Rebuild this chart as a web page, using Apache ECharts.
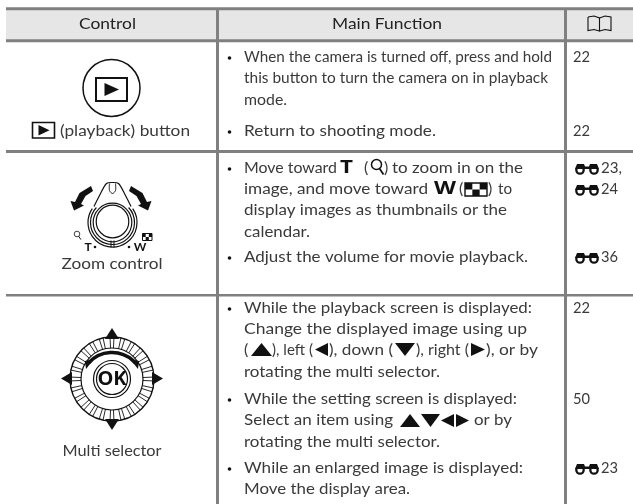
<!DOCTYPE html>
<html>
<head>
	<meta charset="utf-8">
	<title>Control table</title>
	<script src="https://cdn.jsdelivr.net/npm/echarts@6/dist/echarts.min.js"></script>
	<style>
		html, body { margin: 0; padding: 0; background: #fff; }
		#echarts { width: 633px; height: 504px; }
	</style>
</head>
<body>
	<div id="echarts"></div>
	<script>
	// table text
	let headers = ['Control', 'Main Function'];
	let controlLabels = ['(playback) button', 'Zoom control', 'Multi selector'];
	let playbackLines = ['When the camera is turned off, press and hold', 'this button to turn the camera on in playback', 'mode.', 'Return to shooting mode.'];
	let zoomLines = ['Move toward', 'T', '(', ')', 'to zoom in on the', 'image, and move toward', 'W', '(', ')', 'to', 'display images as thumbnails or the', 'calendar.', 'Adjust the volume for movie playback.'];
	let selectorLines = ['While the playback screen is displayed:', 'Change the displayed image using up', '(', '), left (', '), down (', '), right (', '), or by', 'rotating the multi selector.', 'While the setting screen is displayed:', 'Select an item using', 'or by', 'rotating the multi selector.', 'While an enlarged image is displayed:', 'Move the display area.'];
	let pageRefs = ['22', '22', '23,', '24', '36', '22', '50', '23'];

	let font = 'Lato, sans-serif';
	let fontSize = 16;
	let ink = '#3a3a3a';
	let black = '#111';
	let rule = '#808080';
	let els = [];
	let ctx = document.createElement('canvas').getContext('2d');

	// o.w is the width the piece has in the reference, the font is narrower or wider so it gets squeezed to it
	function text(x, y, str, o) {
		o = o || {};
		let size = o.size || fontSize, weight = o.weight || 'normal', family = o.font || font;
		let sx = 1;
		if (o.w) {
			ctx.font = weight + ' ' + size + 'px ' + family;
			sx = o.w / ctx.measureText(str).width;
		}
		els.push({
			type: 'text', x: x, y: y, z: 5, scaleX: sx,
			style: {
				text: str, fill: o.fill || ink, fontFamily: family,
				fontSize: size, fontWeight: weight,
				align: o.align || 'left', verticalAlign: 'middle'
			}
		});
	}
	function line(x1, y1, x2, y2, w, c) {
		els.push({ type: 'line', z: 3, shape: { x1: x1, y1: y1, x2: x2, y2: y2 }, style: { stroke: c || black, lineWidth: w || 1 } });
	}
	function poly(pts, c) {
		els.push({ type: 'polygon', z: 4, shape: { points: pts }, style: { fill: c || black } });
	}
	function pline(pts, w, smooth) {
		els.push({ type: 'polyline', z: 4, shape: { points: pts, smooth: smooth || 0 }, style: { fill: 'none', stroke: black, lineWidth: w || 1 } });
	}
	function circle(cx, cy, r, w, fill) {
		els.push({ type: 'circle', z: 3, shape: { cx: cx, cy: cy, r: r }, style: { fill: fill || 'none', stroke: black, lineWidth: w || 1 } });
	}
	function arc(cx, cy, r, a, b, w) {
		els.push({ type: 'arc', z: 4, shape: { cx: cx, cy: cy, r: r, startAngle: a, endAngle: b, clockwise: true }, style: { fill: 'none', stroke: black, lineWidth: w } });
	}
	function rect(x, y, w, h, o) {
		els.push({ type: 'rect', z: o.z || 1, shape: { x: x, y: y, width: w, height: h }, style: { fill: o.fill || 'none', stroke: o.stroke || 'none', lineWidth: o.lw || 1 } });
	}
	function bullet(y) {
		els.push({ type: 'circle', z: 4, shape: { cx: 229.5, cy: y + 1, r: 1.8 }, style: { fill: black } });
	}
	function triUp(x, y, w, h) { poly([[x + w / 2, y], [x + w, y + h], [x, y + h]]); }
	function triDown(x, y, w, h) { poly([[x, y], [x + w, y], [x + w / 2, y + h]]); }
	function triLeft(x, y, w, h) { poly([[x, y + h / 2], [x + w, y], [x + w, y + h]]); }
	function triRight(x, y, w, h) { poly([[x, y], [x + w, y + h / 2], [x, y + h]]); }
	function binoculars(x, y) {
		circle(x + 6, y + 2, 3.7, 2.3);
		circle(x + 20, y + 2, 3.7, 2.3);
		poly([[x + 3, y - 4], [x + 10, y - 4], [x + 11, y - 1.5], [x + 15, y - 1.5], [x + 16, y - 4], [x + 23, y - 4], [x + 25, y + 1], [x + 1, y + 1]]);
	}
	function magnifier(x, y, r, lw) {
		circle(x, y, r, lw);
		line(x + 0.6 * r, y + 0.8 * r, x + 1.4 * r, y + 2 * r, lw + 0.2);
	}
	function thumbs(x, y, w, h, lw) {
		rect(x, y, w, h, { fill: '#fff', stroke: black, lw: lw, z: 3 });
		let cw = w / 3, ch = h / 2;
		rect(x, y, cw, ch, { fill: black, z: 4 });
		rect(x + 2 * cw, y, cw, ch, { fill: black, z: 4 });
		rect(x + cw, y + ch, cw, ch, { fill: black, z: 4 });
	}

	// table frame
	rect(6, 9, 627, 31, { fill: '#e6e6e6' });
	[8.8, 40.8, 151.5].forEach(function (y) { line(6, y, 633, y, 3, rule); });
	line(6, 295.2, 633, 295.2, 2.6, rule);
	line(217.5, 8, 217.5, 504, 3, rule);
	line(565.5, 8, 565.5, 504, 3, rule);

	text(107.5, 24, headers[0], { align: 'center', fill: '#222', w: 57 });
	text(387, 24, headers[1], { align: 'center', fill: '#222', w: 110 });

	// book icon
	pline([[588, 17], [594, 16], [599.5, 18], [599.5, 31], [594, 29.5], [588, 30.5], [588, 17]], 1.1);
	pline([[599.5, 18], [605, 16], [611, 17], [611, 30.5], [605, 29.5], [599.5, 31]], 1.1);

	// playback button
	circle(111.5, 88, 28.5, 1.5);
	rect(96, 78, 31, 23, { stroke: black, lw: 2, z: 4 });
	triRight(104.5, 83, 14.5, 13);
	rect(32.5, 122.5, 22, 15.5, { stroke: black, lw: 1.6, z: 4 });
	triRight(38.5, 125, 11, 10.5);
	text(60, 131, controlLabels[0], { w: 130 });

	// zoom control
	let zx = 112.5, zy = 221.5;
	circle(zx, zy, 16.3, 1.2);
	circle(zx, zy + 1, 19.3, 1.2);
	arc(zx, zy + 1, 22, -0.75, Math.PI + 0.75, 1.2);
	arc(zx, zy + 1, 24.5, -0.6, Math.PI + 0.6, 1.2);
	pline([[zx + 18.5, zy - 15], [zx + 13, zy - 26], [zx + 6, zy - 38], [zx, zy - 39], [zx - 6, zy - 38], [zx - 13, zy - 26], [zx - 18.5, zy - 15]], 1.2, 0.3);
	pline([[zx + 3, zy - 38], [zx + 3, zy - 31], [zx, zy - 28], [zx - 3, zy - 31], [zx - 3, zy - 38]], 1, 0.3);
	line(zx - 1.5, zy + 19, zx - 1.5, zy + 26, 1);
	line(zx + 1.5, zy + 19, zx + 1.5, zy + 26, 1);
	let leftArrow = [[91, 186], [93, 191], [85.5, 196], [81, 204], [84, 205.5], [74, 210.5], [70.5, 201], [75, 202], [79.5, 193]];
	poly(leftArrow);
	poly(leftArrow.map(function (p) { return [222 - p[0], p[1]]; }));
	magnifier(77, 234, 2.8, 0.8);
	thumbs(142.5, 233.5, 9.5, 7, 1);
	text(88, 247, 'T', { weight: 'bold', size: 12, align: 'center', fill: black });
	text(140, 247, 'W', { weight: 'bold', size: 12, align: 'center', fill: black });
	els.push({ type: 'circle', z: 4, shape: { cx: 95, cy: 247, r: 1.3 }, style: { fill: black } });
	els.push({ type: 'circle', z: 4, shape: { cx: 129, cy: 247, r: 1.3 }, style: { fill: black } });
	text(112, 263.5, controlLabels[1], { align: 'center', w: 101 });

	// multi selector
	let mx = 112, my = 379;
	circle(mx, my, 42, 1.4);
	circle(mx, my, 31, 1.2);
	for (let deg = 0; deg < 360; deg += 15) {
		[-2.7, 2.7].forEach(function (d) {
			let a = (deg + d) * Math.PI / 180;
			line(mx + 31 * Math.cos(a), my + 31 * Math.sin(a), mx + 42 * Math.cos(a), my + 42 * Math.sin(a), 0.9);
		});
	}
	circle(mx, my, 18.5, 1.2, '#fff');
	circle(mx, my, 15.5, 1.2);
	arc(mx, my + 5, 31.5, -Math.PI / 2 - 0.84, -Math.PI / 2 + 0.84, 3.6);
	poly([[86, 369], [85, 361], [94, 359]]);
	poly([[138, 369], [139, 361], [130, 359]]);
	triUp(105, 328, 14, 11);
	triDown(105, 419, 14, 11);
	triLeft(61, 372, 11, 13);
	triRight(152, 372, 11, 13);
	text(mx, my, 'OK', { weight: 'bold', size: 20, align: 'center', fill: black, font: '"Open Sans", sans-serif' });
	text(112, 451, controlLabels[2], { align: 'center', w: 99 });

	// row 1 text
	bullet(57); text(244, 57, playbackLines[0], { w: 308 });
	text(244, 78, playbackLines[1], { w: 304 });
	text(244, 100, playbackLines[2], { w: 43 });
	bullet(131); text(244, 131, playbackLines[3], { w: 192 });

	// row 2 text, inline icons placed between the pieces
	bullet(168);
	text(244, 168, zoomLines[0], { w: 93 });
	text(346.5, 168, zoomLines[1], { weight: 'bold', size: 17, align: 'center', fill: black, w: 13, font: '"Open Sans", sans-serif' });
	text(364, 168, zoomLines[2]);
	magnifier(376.5, 164.5, 5, 1.5);
	text(384, 168, zoomLines[3]);
	text(392, 168, zoomLines[4], { w: 131 });
	text(244, 189, zoomLines[5], { w: 184 });
	text(445, 189, zoomLines[6], { weight: 'bold', size: 17, align: 'center', fill: black, w: 22, font: '"Open Sans", sans-serif' });
	text(459, 189, zoomLines[7]);
	thumbs(465, 183, 22, 13, 1.4);
	text(488, 189, zoomLines[8]);
	text(498, 189, zoomLines[9], { w: 14 });
	text(244, 210, zoomLines[10], { w: 263 });
	text(244, 232, zoomLines[11], { w: 66 });
	bullet(257); text(244, 257, zoomLines[12], { w: 284 });

	// row 3 text
	bullet(308);
	text(244, 308, selectorLines[0], { w: 288 });
	text(244, 329, selectorLines[1], { w: 283 });
	text(244, 350, selectorLines[2]);
	triUp(251, 343, 21, 13);
	text(272, 350, selectorLines[3], { w: 41 });
	triLeft(315, 343, 13, 13);
	text(329, 350, selectorLines[4], { w: 64 });
	triDown(395, 343, 20, 13);
	text(416, 350, selectorLines[5], { w: 53 });
	triRight(471, 343, 14, 13);
	text(486, 350, selectorLines[6], { w: 52 });
	text(244, 372, selectorLines[7], { w: 196 });
	bullet(399);
	text(244, 399, selectorLines[8], { w: 273 });
	text(244, 420, selectorLines[9], { w: 149 });
	triUp(400, 414, 20, 13);
	triDown(421, 414, 19, 13);
	triLeft(441, 414, 13, 13);
	triRight(456, 414, 13, 13);
	text(474, 420, selectorLines[10], { w: 38 });
	text(244, 442, selectorLines[11], { w: 196 });
	bullet(468);
	text(244, 468, selectorLines[12], { w: 279 });
	text(244, 489, selectorLines[13], { w: 166 });

	// page references
	text(573, 57, pageRefs[0], { w: 17 });
	text(573, 131, pageRefs[1], { w: 17 });
	binoculars(574, 168); text(601, 168, pageRefs[2], { w: 21 });
	binoculars(574, 189); text(601, 189, pageRefs[3], { w: 17 });
	binoculars(574, 257); text(601, 257, pageRefs[4], { w: 17 });
	text(573, 308, pageRefs[5], { w: 17 });
	text(573, 399, pageRefs[6], { w: 17 });
	binoculars(574, 468); text(601, 468, pageRefs[7], { w: 17 });

	let myChart = echarts.init(document.getElementById('echarts'), null, { renderer: 'canvas' });
	myChart.setOption({ animation: false, graphic: { elements: els } });
	</script>
</body>
</html>
